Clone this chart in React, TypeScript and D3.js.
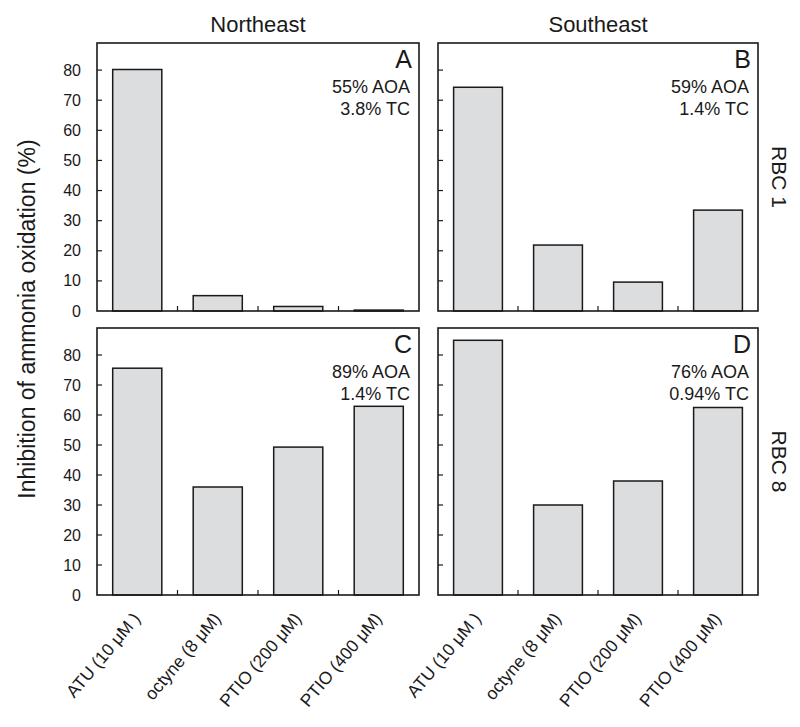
import React, { useEffect, useRef } from 'react';
import * as d3 from 'd3';

const treatments = ['ATU (10 μM )', 'octyne (8 μM)', 'PTIO (200 μM)', 'PTIO (400 μM)'];
const regions = ['Northeast', 'Southeast'];
const rbcLabels = ['RBC 1', 'RBC 8'];

const northeastRbc1 = [80.2, 5.1, 1.5, 0.3];
const southeastRbc1 = [74.3, 21.9, 9.6, 33.5];
const northeastRbc8 = [75.6, 36.0, 49.3, 62.9];
const southeastRbc8 = [84.9, 30.0, 38.0, 62.5];

const panelLetters = ['A', 'B', 'C', 'D'];
const aoaLabels = ['55% AOA', '59% AOA', '89% AOA', '76% AOA'];
const tcLabels = ['3.8% TC', '1.4% TC', '1.4% TC', '0.94% TC'];
const yTicks = [0, 10, 20, 30, 40, 50, 60, 70, 80];

const App: React.FC = () => {
  const svgRef = useRef<SVGSVGElement>(null);

  useEffect(() => {
    if (!svgRef.current) return;
    const svg = d3.select(svgRef.current);
    svg.selectAll('*').remove();

    const font = 'Liberation Sans, Arial, Helvetica, sans-serif';
    const cols: [number, number][] = [[97, 419], [438, 758]];
    const rows: [number, number][] = [[43, 311], [328, 595]];
    const panels = [
      { col: 0, row: 0, values: northeastRbc1 },
      { col: 1, row: 0, values: southeastRbc1 },
      { col: 0, row: 1, values: northeastRbc8 },
      { col: 1, row: 1, values: southeastRbc8 },
    ];

    panels.forEach((p, i) => {
      const [x0, x1] = cols[p.col];
      const [y0, y1] = rows[p.row];
      const x = d3.scaleBand<string>().domain(treatments).range([x0, x1])
        .paddingInner(0.39).paddingOuter(0.195);
      const y = d3.scaleLinear().domain([0, 89]).range([y1, y0]);
      const g = svg.append('g');

      g.selectAll('rect.bar')
        .data(p.values)
        .enter().append('rect')
        .attr('class', 'bar')
        .attr('x', (_, j) => x(treatments[j]) as number)
        .attr('y', d => y(d))
        .attr('width', x.bandwidth())
        .attr('height', d => y(0) - y(d))
        .attr('fill', '#dcdddf')
        .attr('stroke', '#1a1a1a')
        .attr('stroke-width', 1.5);

      // frame
      g.append('rect')
        .attr('x', x0).attr('y', y0)
        .attr('width', x1 - x0).attr('height', y1 - y0)
        .attr('fill', 'none')
        .attr('stroke', '#1a1a1a')
        .attr('stroke-width', 1.6);

      // inward y ticks
      g.selectAll('line.yt')
        .data(yTicks.filter(t => t > 0))
        .enter().append('line')
        .attr('x1', x0).attr('x2', x0 + 5)
        .attr('y1', d => y(d)).attr('y2', d => y(d))
        .attr('stroke', '#1a1a1a').attr('stroke-width', 1.2);

      // inward x ticks between bars
      g.selectAll('line.xt')
        .data(treatments.slice(1))
        .enter().append('line')
        .attr('x1', d => (x(d) as number) - x.step() * 0.39 / 2)
        .attr('x2', d => (x(d) as number) - x.step() * 0.39 / 2)
        .attr('y1', y1).attr('y2', y1 - 5)
        .attr('stroke', '#1a1a1a').attr('stroke-width', 1.2);

      if (p.col === 0) {
        g.selectAll('text.yl')
          .data(yTicks)
          .enter().append('text')
          .attr('x', x0 - 16)
          .attr('y', d => y(d))
          .attr('dy', '0.35em')
          .attr('text-anchor', 'end')
          .attr('font-family', font)
          .attr('font-size', 16)
          .attr('fill', '#1a1a1a')
          .text(d => d);
      }

      if (p.row === 1) {
        g.selectAll('text.xl')
          .data(treatments)
          .enter().append('text')
          .attr('transform', d => `translate(${(x(d) as number) + x.bandwidth() / 2 + 4},${y1 + 24}) rotate(-50)`)
          .attr('text-anchor', 'end')
          .attr('font-family', font)
          .attr('font-size', 17.5)
          .attr('fill', '#1a1a1a')
          .text(d => d);
      }

      g.append('text')
        .attr('x', x1 - 7).attr('y', y0 + 25)
        .attr('text-anchor', 'end')
        .attr('font-family', font).attr('font-size', 25)
        .attr('fill', '#1a1a1a')
        .text(panelLetters[i]);

      g.append('text')
        .attr('x', x1 - 9).attr('y', y0 + 50)
        .attr('text-anchor', 'end')
        .attr('font-family', font).attr('font-size', 18)
        .attr('fill', '#1a1a1a')
        .text(aoaLabels[i]);

      g.append('text')
        .attr('x', x1 - 9).attr('y', y0 + 72)
        .attr('text-anchor', 'end')
        .attr('font-family', font).attr('font-size', 18)
        .attr('fill', '#1a1a1a')
        .text(tcLabels[i]);
    });

    // column titles
    regions.forEach((r, c) => {
      svg.append('text')
        .attr('x', (cols[c][0] + cols[c][1]) / 2)
        .attr('y', 32)
        .attr('text-anchor', 'middle')
        .attr('font-family', font).attr('font-size', 22)
        .attr('fill', '#1a1a1a')
        .text(r);
    });

    // row labels on the right
    rbcLabels.forEach((r, k) => {
      const cy = (rows[k][0] + rows[k][1]) / 2;
      svg.append('text')
        .attr('transform', `translate(772,${cy}) rotate(90)`)
        .attr('text-anchor', 'middle')
        .attr('font-family', font).attr('font-size', 21)
        .attr('fill', '#1a1a1a')
        .text(r);
    });

    // y axis title
    svg.append('text')
      .attr('transform', `translate(35,${(rows[0][0] + rows[1][1]) / 2}) rotate(-90)`)
      .attr('text-anchor', 'middle')
      .attr('font-family', font).attr('font-size', 23)
      .attr('fill', '#1a1a1a')
      .text('Inhibition of ammonia oxidation (%)');
  }, []);

  return (
    <svg
      ref={svgRef}
      width={800}
      height={727}
      style={{ position: 'absolute', left: 0, top: 0, background: '#fff' }}
    />
  );
};

export default App;
